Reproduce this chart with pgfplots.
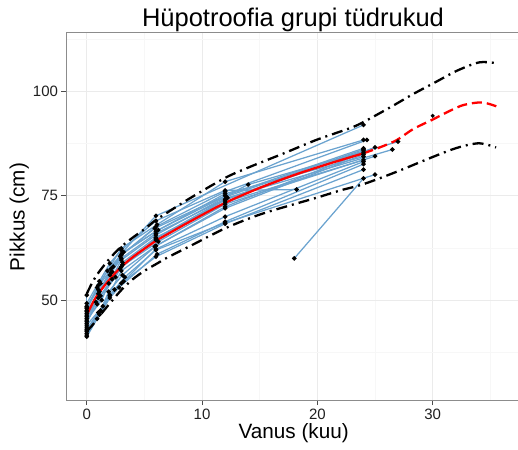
\documentclass[border=0pt]{standalone}
\usepackage{fontspec}
\setmainfont{Liberation Sans}
\usepackage{pgfplots}
\pgfplotsset{compat=1.18}
\definecolor{gridmaj}{HTML}{EBEBEB}
\definecolor{gridmin}{HTML}{F7F7F7}
\definecolor{indiv}{HTML}{6BA3CF}
\definecolor{border}{HTML}{8C8C8C}
\pgfplotsset{indivstyle/.style={indiv, line width=1.25bp, mark=*, mark size=1.6bp, mark options={black, fill=black, solid}}}
\begin{document}
\begin{tikzpicture}
\useasboundingbox (0,0) rectangle (518bp,450bp);
\begin{axis}[
 at={(66bp,49.3bp)}, anchor=south west,
 scale only axis, width=452bp, height=368.7bp,
 xmin=-1.8, xmax=37.4, ymin=25.85, ymax=114.3,
 xtick={0,10,20,30}, ytick={50,75,100},
 minor xtick={5,15,25,35}, minor ytick={37.5,62.5,87.5,112.5},
 grid=both,
 major grid style={gridmaj, line width=0.9bp},
 minor grid style={gridmin, line width=0.6bp},
 axis line style={border, line width=0.8bp},
 tick align=outside,
 major tick length=4.5bp, minor tick length=0pt,
 tick style={black!70, line width=0.8bp},
 xtick pos=left, ytick pos=left,
 tick label style={font=\fontsize{15bp}{15bp}\selectfont, text=black!88},
 /pgf/number format/assume math mode=true,
 clip=true,
]
% individuals
\addplot[indivstyle] coordinates {(0,48.5) (1.2,54) (2.3,58) (3.1,61.5) (6,70.2) (24,92.0)};
\addplot[indivstyle] coordinates {(0,47.5) (0.9,53) (3,62.4) (6.1,68.1) (12,78.4) (24,88.4)};
\addplot[indivstyle] coordinates {(0,46.8) (1.1,52) (2,56) (2.9,60.5) (6,67.6) (12,76.0) (24.3,88.4)};
\addplot[indivstyle] coordinates {(0,46) (1,51.5) (2.1,57.5) (3.2,61.5) (6.2,66.8) (14,77.7) (27,88.0)};
\addplot[indivstyle] coordinates {(0,45.2) (1.3,50) (1.9,54) (3,59.6) (6,65.6) (12.1,74.8) (24,86.1)};
\addplot[indivstyle] coordinates {(0,44.4) (0.8,49.5) (2.2,55) (3.1,58.5) (6,64.4) (12,74.0) (25,86.6)};
\addplot[indivstyle] coordinates {(0,44) (1.4,48.5) (3,57) (5.9,62.8) (12,72.4) (24,85.3)};
\addplot[indivstyle] coordinates {(0,43) (1,47) (2,51.2) (3.3,55.5) (6,62.0) (12,68.5) (25,80.1)};
\addplot[indivstyle] coordinates {(0,42) (1.1,46.5) (2.4,52.5) (3,54) (6,60.4) (12,68.3) (24,81.3)};
\addplot[indivstyle] coordinates {(0,41.2) (0.9,45.5) (2,50.5) (2.8,53) (6.1,61) (12,68.8) (24,82.6)};
\addplot[indivstyle] coordinates {(0,48) (1,53.5) (1.8,57) (3,61) (6,66.5) (12,75.5) (24,84.4)};
\addplot[indivstyle] coordinates {(0,47.2) (2.1,56.5) (3,60) (6,66) (12.2,74.5) (26.5,86.1)};
\addplot[indivstyle] coordinates {(0,46.4) (1.2,51) (3.1,59) (6,65) (12,73.5) (24,83.6)};
\addplot[indivstyle] coordinates {(0,45.6) (1,50.5) (2.5,55.5) (3,58) (6.2,64) (12,73) (25,84.5)};
\addplot[indivstyle] coordinates {(0,49.2) (1.1,54.5) (2,58.8) (3,62) (6,69) (12,76.3) (18.2,76.5)};
\addplot[indivstyle] coordinates {(18,60) (24,79.2)};
\addplot[indivstyle] coordinates {(0,42.5) (1.2,47.5) (1.9,52) (3.1,56) (6,63) (12,72) (24,84.9)};
\addplot[indivstyle] coordinates {(0,44.8) (0.9,49) (2.9,57.5) (6,64.8) (12,74.2) (24,85.8)};
\addplot[indivstyle] coordinates {(0,48.3) (1,52.5) (2.2,56.8) (3,60.8) (5.9,67.2) (12,75) (24,86.4)};
\addplot[indivstyle] coordinates {(0,41.6) (2,51) (3.2,54.5) (6,62.2) (12,70) (24,83.2)};
\addplot[indivstyle] coordinates {(0,51.2) (0,43.5) (0,42.8)};
\addplot[only marks, mark=*, mark size=1.8bp, mark options={black, fill=black}] coordinates {(30,94.2)};
% reference curves
\addplot[black, line width=2.3bp, dash pattern=on 11bp off 5bp on 2bp off 5bp, smooth] coordinates {
(0,51.5) (0.5,54.3) (1,56.5) (2,60) (3,62.8) (4,65) (5,67) (6,69.2) (7,71) (9,74.5) (12,79.3) (14.2,82) (17.1,85.2) (19.9,88.4) (22.8,91.2) (24,92.7) (26.3,96.2) (28.3,99.4) (30.2,102.2) (32.1,105.0) (34,107.0) (35.3,106.9)};
\addplot[black, line width=2.3bp, dash pattern=on 11bp off 5bp on 2bp off 5bp, smooth] coordinates {
(0,42.5) (0.5,44.0) (1,45.8) (2,49.2) (3,52.4) (4,55) (5,57) (6,58.6) (7,60.2) (9,63) (12,67.2) (15,70.5) (18,73) (20,74.6) (22,76.3) (24,77.8) (26.9,80.8) (29.9,84.2) (32.1,86.5) (34,87.6) (35.5,86.6)};
\addplot[red, line width=2.3bp, smooth] coordinates {
(0,46.4) (0.5,49.2) (1,51.5) (2,55.0) (3,58.0) (4,60.3) (5,62.3) (6,64.2) (7,65.8) (9,68.9) (12,73.3) (15,76.9) (18,80.0) (21,82.7) (24,85.2)};
\addplot[red, line width=2.3bp, dash pattern=on 10bp off 5bp, smooth] coordinates {
(24,85.2) (25.5,86.7) (26.9,88.4) (28.3,91.0) (30,93.3) (31.5,95.4) (32.7,96.8) (34.3,97.4) (35.8,96.2)};
\end{axis}
\node[font=\fontsize{25.5bp}{25.5bp}\selectfont, anchor=base] at (293bp,423bp) {Hüpotroofia grupi tüdrukud};
\node[font=\fontsize{20.7bp}{20.7bp}\selectfont, anchor=base] at (293.7bp,11.5bp) {Vanus (kuu)};
\node[font=\fontsize{20.7bp}{20.7bp}\selectfont, anchor=base, rotate=90] at (24.5bp,233bp) {Pikkus (cm)};
\end{tikzpicture}
\end{document}
